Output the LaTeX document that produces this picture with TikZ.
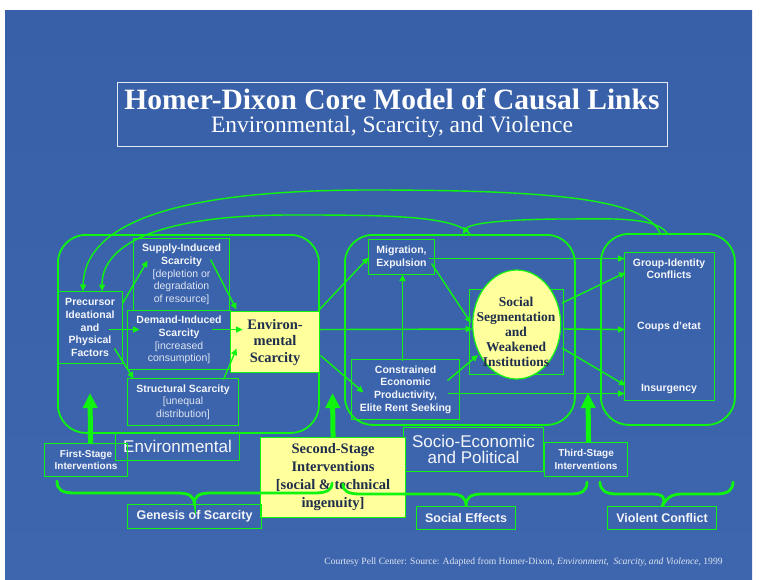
\documentclass[tikz,border=0pt]{standalone}
\usepackage{fontspec}
\setmainfont{Liberation Serif}
\setsansfont{Liberation Sans}
\usetikzlibrary{arrows.meta,shapes.geometric}
\definecolor{bgmid}{RGB}{78,118,188}
\definecolor{bgtop}{RGB}{56,96,168}
\definecolor{bgbot}{RGB}{62,102,174}
\definecolor{lg}{RGB}{15,245,15}
\definecolor{yel}{RGB}{255,255,155}
\definecolor{navy}{RGB}{30,46,76}
\definecolor{txt}{RGB}{244,246,250}
\definecolor{txtl}{RGB}{222,229,242}
\newcommand\brtext[1]{{\mdseries\color{txtl}#1}}
\begin{document}
\begin{tikzpicture}[x=1pt,y=-1pt,
  cont/.style={draw=lg,line width=1.8pt,rounded corners=28pt,anchor=north west,inner sep=0pt},
  ibox/.style={draw=lg,line width=1.1pt,inner sep=0pt,anchor=north west,align=center,text=txt,
               font=\sffamily\bfseries\fontsize{10.5}{12.7}\selectfont},
  ybox/.style={ibox,fill=yel,text=navy,font=\bfseries\fontsize{14.5}{16.5}\selectfont},
  lbl/.style={ibox,font=\sffamily\fontsize{17}{16.5}\selectfont},
  slbl/.style={ibox,font=\sffamily\bfseries\fontsize{10}{12.4}\selectfont},
  glbl/.style={ibox,font=\sffamily\bfseries\fontsize{12.5}{14}\selectfont},
  wtxt/.style={text=txt,align=center,inner sep=0pt,font=\sffamily\bfseries\fontsize{10.5}{12.7}\selectfont},
  arr/.style={draw=lg,line width=1.4pt,-{Triangle[length=6.5pt,width=6pt]}},
  bigarr/.style={draw=lg,line width=5pt,-{Triangle[length=15pt,width=14pt]}},
  brace/.style={draw=lg,line width=2.8pt,line cap=round}
]
\useasboundingbox (0,0) rectangle (760,579);
\fill[white] (0,0) rectangle (760,579);
\shade[top color=bgtop,middle color=bgmid,bottom color=bgbot] (5,10) rectangle (752,579);

% title
\node[draw=white!85!bgmid,line width=0.8pt,minimum width=550,minimum height=64,anchor=north west,inner sep=0pt] (tbox) at (117,82) {};
\node[text=white,font=\bfseries\fontsize{29.5}{31}\selectfont] (title) at (392,99) {Homer-Dixon Core Model of Causal Links};
\node[text=white,font=\fontsize{23.5}{25}\selectfont] (sub) at (392,127) {Environmental, Scarcity, and Violence};

% containers
\node[cont,minimum width=261,minimum height=198] (cL) at (57,234) {};
\node[cont,minimum width=230,minimum height=190] (cM) at (344,234) {};
\node[cont,minimum width=134,minimum height=191] (cR) at (600,233) {};

% left boxes
\node[ibox,minimum width=65,minimum height=72] (prec) at (57,291) {Precursor\\Ideational\\and\\Physical\\Factors};
\node[ibox,minimum width=96,minimum height=72] (supply) at (133,238) {Supply-Induced\\Scarcity\\\brtext{[depletion or}\\\brtext{degradation}\\\brtext{of resource]}};
\node[ibox,minimum width=103,minimum height=59] (demand) at (127,310) {Demand-Induced\\Scarcity\\\brtext{[increased}\\\brtext{consumption]}};
\node[ybox,minimum width=89,minimum height=61] (env) at (230,311) {Environ-\\mental\\Scarcity};
\node[ibox,minimum width=111,minimum height=47] (struct) at (127,378) {Structural Scarcity\\\brtext{[unequal}\\\brtext{distribution]}};

% middle boxes
\node[ibox,minimum width=66,minimum height=35] (mig) at (368,239) {Migration,\\Expulsion};
\node[ibox,minimum width=108,minimum height=60] (cons) at (351,359) {Constrained\\Economic\\Productivity,\\Elite Rent Seeking};
\node[ibox,minimum width=94,minimum height=85] (ssrect) at (469,289) {};
\node[ellipse,draw=lg,fill=yel,line width=1.2pt,minimum width=88,minimum height=109,inner sep=0pt] (ell) at (516.7,324.5) {};
\node[text=navy,align=center,inner sep=0pt,font=\bfseries\fontsize{13.5}{15}\selectfont] (sstext) at (516,331.5) {Social\\Segmentation\\and\\Weakened\\Institutions};

% right box
\node[ibox,minimum width=90,minimum height=148] (grp) at (624,252) {};
\node[wtxt] (gic) at (669,268.7) {Group-Identity\\Conflicts};
\node[wtxt] (coups) at (669,326.7) {Coups d’etat};
\node[wtxt] (insurg) at (669,389.3) {Insurgency};

% bottom labels
\node[lbl,minimum width=124,minimum height=28] (envlbl) at (115,432) {Environmental};
\node[lbl,minimum width=140,minimum height=44] (socio) at (403,427) {Socio-Economic\\and Political};
\node[slbl,minimum width=83,minimum height=33] (first) at (44,443) {First-Stage\\Interventions};
\node[slbl,minimum width=83,minimum height=34] (third) at (544,442) {Third-Stage\\Interventions};
\node[ybox,minimum width=145,minimum height=80,font=\bfseries\fontsize{14.5}{18}\selectfont] (second) at (260,437) {Second-Stage\\Interventions\\{[}social \& technical\\ingenuity]};
\node[glbl,minimum width=134,minimum height=24] (genesis) at (127,504) {Genesis of Scarcity};
\node[glbl,minimum width=99,minimum height=23] (soceff) at (416,506) {Social Effects};
\node[glbl,minimum width=109,minimum height=23] (viol) at (607,506) {Violent Conflict};

% left arrows
\draw[arr] ([shift={(32.5,-24)}]prec.center) -- ([shift={(-34,-14)}]supply.center);
\draw[arr] ([shift={(18.5,2)}]prec.center) -- ([shift={(-39.5,-10.5)}]demand.center);
\draw[arr] ([shift={(24.5,21)}]prec.center) -- ([shift={(-49.5,-23.5)}]struct.center);
\draw[arr] ([shift={(29,-15)}]supply.center) -- ([shift={(-38.5,-32.5)}]env.center);
\draw[arr] ([shift={(32.5,-10.5)}]demand.center) -- ([shift={(-32.5,-12.5)}]env.center);
\draw[arr] ([shift={(40.5,-22.5)}]struct.center) -- ([shift={(-38.5,6.5)}]env.center);

% middle arrows
\draw[arr] ([shift={(43.5,-31.5)}]env.center) -- ([shift={(-33,0.5)}]mig.center);
\draw[arr] ([shift={(44.5,-12.5)}]env.center) -- ([shift={(-44.5,4.5)}]ell.center);
\draw[arr] ([shift={(45.5,13.5)}]env.center) -- ([shift={(-42,3)}]cons.center);
\draw[arr] ([shift={(-3,-29)}]cons.center) -- ([shift={(1,17.5)}]mig.center);
\draw[arr] ([shift={(30,6.5)}]mig.center) -- ([shift={(-45.7,-1.5)}]ell.center);
\draw[arr] ([shift={(42,-9)}]cons.center) -- ([shift={(-38.7,30.5)}]ell.center);

% right arrows
\draw[arr] ([shift={(27,1.5)}]mig.center) -- ([shift={(-45,-68)}]grp.center);
\draw[arr] ([shift={(45.3,-21.5)}]ell.center) -- ([shift={(-44,-54)}]grp.center);
\draw[arr] ([shift={(46.3,4.5)}]ell.center) -- ([shift={(-45,3)}]grp.center);
\draw[arr] ([shift={(45.3,23.5)}]ell.center) -- ([shift={(-44,59)}]grp.center);
\draw[arr] ([shift={(42,4)}]cons.center) -- ([shift={(-45,67)}]grp.center);

% top feedback arcs
\draw[arr] ([shift={(60,0)}]cR.north west) .. controls (645,200) and (560,190) .. (370,190)
   .. controls (200,190) and (85,215) .. ([shift={(26,0)}]prec.north west);
\draw[arr] ([shift={(126,0)}]cM.north west) .. controls (455,215) and (380,215) .. (290,215)
   .. controls (170,215) and (102,240) .. ([shift={(45,0)}]prec.north west);
\draw[arr] ([shift={(67,0)}]cR.north west) .. controls (655,216) and (605,219) .. (565,219)
   .. controls (520,219) and (470,222) .. ([shift={(119,0)}]cM.north west);

% intervention arrows
\coordinate (t1) at (90,393);
\coordinate (t2) at (332.5,393);
\coordinate (t3) at (588,393);
\draw[bigarr] ([xshift=4.5pt]first.north) -- (t1);
\draw[bigarr] (second.north) -- (t2);
\draw[bigarr] ([xshift=2.5pt]third.north) -- (t3);

% braces
\draw[brace] (57,481) .. controls (57,490) and (62,493) .. (75,493) -- (178,493)
   .. controls (190,493) and (194,497) .. (genesis.north)
   .. controls (194,497) and (198,493) .. (210,493) -- (314,493)
   .. controls (327,493) and (332,490) .. (332,483);
\draw[brace] (343,484) .. controls (343,491) and (348,494) .. (360,494) -- (450,494)
   .. controls (462,494) and (466,498) .. (soceff.north)
   .. controls (466,498) and (470,494) .. (482,494) -- (570,494)
   .. controls (582,494) and (587,491) .. (587,482);
\draw[brace] (600,482) .. controls (600,490) and (605,494) .. (617,494) -- (652,494)
   .. controls (663,494) and (667,498) .. (viol.north)
   .. controls (667,498) and (671,494) .. (682,494) -- (716,494)
   .. controls (728,494) and (733,490) .. (733,482);

% footer
\node[text=txtl,font=\fontsize{9.6}{11}\selectfont] (foot) at (523.5,562) {Courtesy Pell Center: Source: Adapted from Homer-Dixon, \textit{Environment,\ \ Scarcity, and Violence}, 1999};
\end{tikzpicture}
\end{document}
